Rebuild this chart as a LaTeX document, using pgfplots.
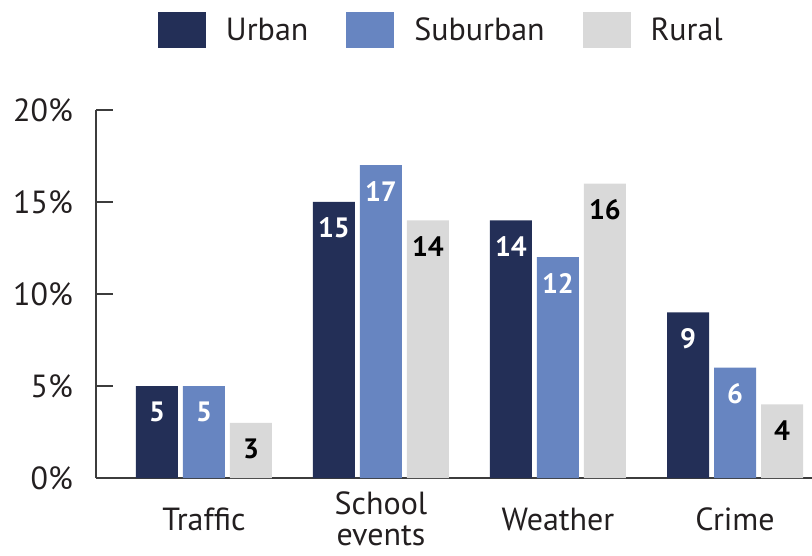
\documentclass[border=0pt]{standalone}
\usepackage{pgfplots}
\pgfplotsset{compat=1.18}
\usepackage{fontspec}
\setmainfont{PT Sans}

\definecolor{urban}{HTML}{232F57}
\definecolor{suburban}{HTML}{6785C1}
\definecolor{rural}{HTML}{D9D9D9}
\definecolor{axisgray}{HTML}{3C3C3C}
\definecolor{ink}{HTML}{231F20}

\newcommand\labelfont{\fontsize{32}{31}\selectfont}
\newcommand\valuefont{\fontsize{28}{28}\selectfont\bfseries}

% square legend swatches
\pgfplotsset{boxlegend/.style={legend image code/.code={%
  \fill[##1,draw=none] (0pt,-18pt) rectangle (48pt,18pt);}}}

\begin{document}
\begin{tikzpicture}
\useasboundingbox (-96pt,-77pt) rectangle (716pt,478pt);
\begin{axis}[
  scale only axis, width=716pt, height=368pt,
  xmin=-0.610, xmax=3.435, ymin=0, ymax=20,
  axis x line*=bottom, axis y line*=left,
  axis line style={draw=axisgray, line width=2pt},
  ybar=5pt, bar width=42pt,
  every axis plot post/.append style={boxlegend},
  ytick={0,5,10,15,20}, yticklabels={0\%,5\%,10\%,15\%,20\%},
  ytick align=inside, major tick length=17pt,
  ytick style={draw=axisgray, line width=2pt},
  xtick={0,1,2,3}, xticklabels={Traffic,School\\events,Weather,Crime},
  xtick style={draw=none},
  xticklabel style={align=center, anchor=center, yshift=-24pt, font=\labelfont, text=ink},
  yticklabel style={anchor=east, inner sep=0pt, xshift=-23pt, font=\labelfont, text=ink},
  nodes near coords={\pgfmathprintnumber[assume math mode=true]{\pgfplotspointmeta}},
  nodes near coords style={anchor=center, yshift=-26pt, font=\valuefont},
  legend columns=3,
  legend style={draw=none, fill=none, at={(0.0866,1.2174)}, anchor=west,
    inner sep=0pt, outer sep=0pt, font=\labelfont, text=ink,
    nodes={inner sep=0pt},
    /tikz/every odd column/.append style={column sep=20pt},
    /tikz/every even column/.append style={column sep=38pt}},
  legend cell align=left,
]
\addplot[fill=urban, draw=none, every node near coord/.append style={text=white}]
  coordinates {(0,5) (1,15) (2,14) (3,9)};
\addplot[fill=suburban, draw=none, every node near coord/.append style={text=white}]
  coordinates {(0,5) (1,17) (2,12) (3,6)};
\addplot[fill=rural, draw=none, every node near coord/.append style={text=black}]
  coordinates {(0,3) (1,14) (2,16) (3,4)};
\legend{Urban,Suburban,Rural}
\end{axis}
\end{tikzpicture}
\end{document}
